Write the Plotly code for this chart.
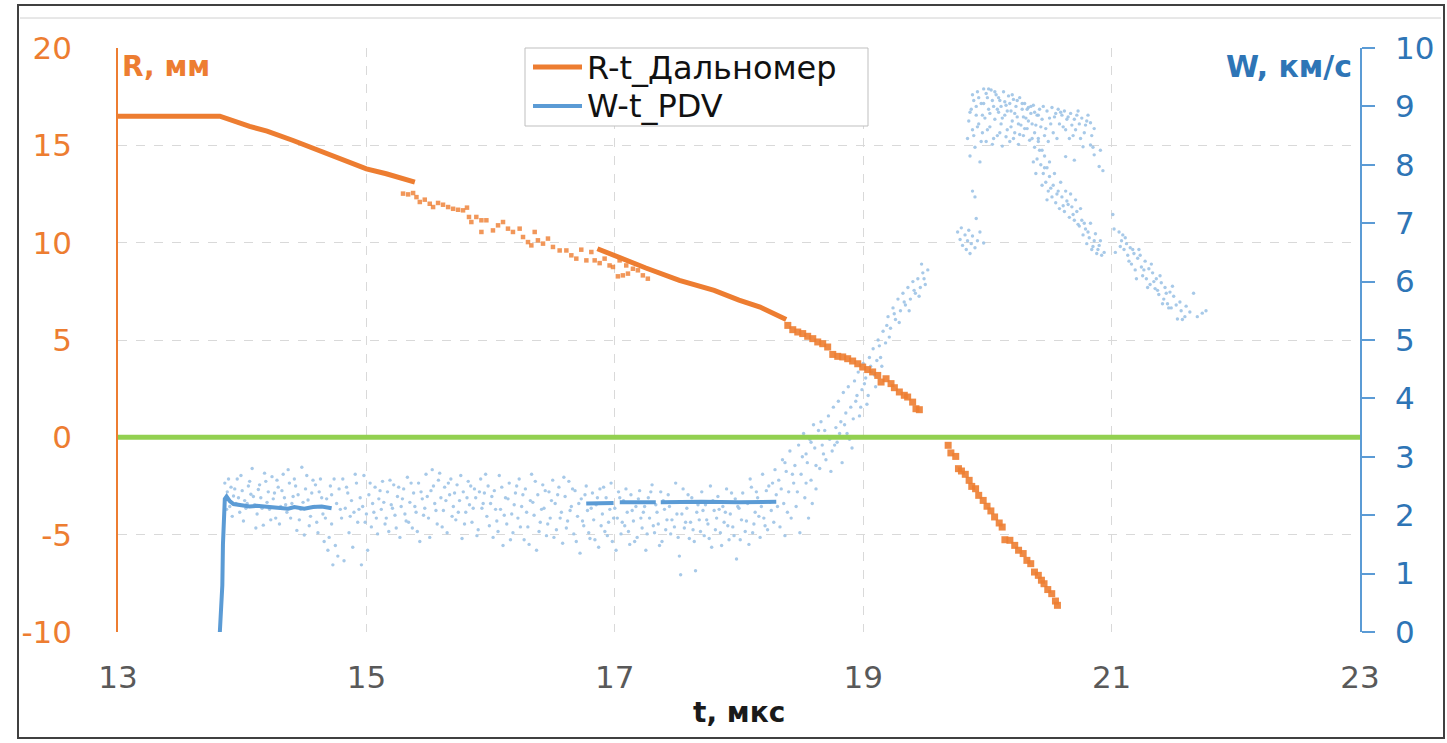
import plotly.graph_objects as go

# ---------------- R-t_Дальномер  (R, мм ; left axis) ----------------
r_line1_t = [13.0, 13.82, 14.06, 14.20, 14.41, 14.63, 14.84, 15.0, 15.16, 15.39]
r_line1_v = [16.5, 16.5, 15.97, 15.73, 15.25, 14.71, 14.14, 13.79, 13.54, 13.11]

r_scatter_t = [15.295, 15.336, 15.376, 15.403, 15.430, 15.470, 15.510, 15.537, 15.577, 15.617,
               15.658, 15.698, 15.738, 15.778, 15.810, 15.826, 15.845, 15.885, 15.926, 15.966,
               15.926, 16.019, 16.060, 16.100, 16.140, 16.180, 16.234, 16.261, 16.301, 16.328,
               16.355, 16.381, 16.422, 16.462, 16.502, 16.556, 16.610, 16.650, 16.690, 16.730,
               16.771, 16.811, 16.838, 16.878, 16.918, 16.958, 16.985, 17.025, 17.065, 17.106,
               17.146, 17.186, 17.226, 17.266, 17.092, 17.039]
r_scatter_v = [12.52, 12.48, 12.55, 12.34, 12.09, 12.21, 12.00, 11.83, 12.04, 11.95,
               11.83, 11.74, 11.69, 11.66, 11.80, 11.32, 11.06, 11.32, 11.15, 11.15,
               10.55, 10.63, 10.89, 11.06, 10.72, 10.55, 10.72, 10.29, 10.03, 9.86,
               10.55, 10.12, 9.95, 10.21, 9.78, 9.60, 9.60, 9.35, 9.18, 9.64,
               9.09, 9.52, 9.09, 8.95, 9.18, 8.83, 8.75, 8.27, 8.32, 8.41,
               8.66, 8.58, 8.32, 8.15, 8.83, 9.09]

r_line2_t = [16.86, 17.05, 17.25, 17.52, 17.80, 18.00, 18.17, 18.38]
r_line2_v = [9.69, 9.20, 8.70, 8.06, 7.55, 7.05, 6.69, 6.05]

r_marks_t = [18.393, 18.433, 18.473, 18.513, 18.553, 18.594, 18.634, 18.674, 18.714, 18.755,
             18.795, 18.835, 18.875, 18.915, 18.956, 18.996, 19.036, 19.076, 19.117, 19.144,
             19.184, 19.224, 19.251, 19.291, 19.331, 19.358, 19.398, 19.425, 19.452,
             19.684, 19.706, 19.745, 19.767, 19.791, 19.822, 19.853, 19.874, 19.905, 19.930,
             19.966, 19.997, 20.028, 20.058, 20.095, 20.119, 20.141, 20.181, 20.220, 20.251,
             20.288, 20.318, 20.349, 20.379, 20.410, 20.435, 20.456, 20.486, 20.518, 20.548,
             20.564]
r_marks_v = [5.75, 5.53, 5.41, 5.33, 5.19, 5.07, 4.90, 4.81, 4.64, 4.26,
             4.16, 4.13, 4.04, 3.92, 3.78, 3.61, 3.48, 3.36, 3.18, 2.84,
             3.01, 2.76, 2.55, 2.33, 2.16, 2.07, 1.81, 1.47, 1.42,
             -0.41, -0.80, -0.98, -1.61, -1.73, -1.90, -2.21, -2.52, -2.64, -2.98,
             -3.24, -3.54, -3.78, -4.09, -4.40, -4.61, -5.26, -5.29, -5.55, -5.80,
             -5.97, -6.32, -6.49, -6.92, -7.09, -7.34, -7.52, -7.82, -8.03, -8.41,
             -8.63]

zero_t = [13, 23]
zero_r = [0, 0]

# ---------------- W-t_PDV  (W, км/с ; right axis) ----------------
w_line1_t = [13.82, 13.83, 13.84, 13.845, 13.85, 13.86, 13.874, 13.90, 13.93, 14.0, 14.06,
             14.115, 14.18, 14.25, 14.31, 14.37, 14.42, 14.46, 14.5, 14.57, 14.64, 14.72]
w_line1_v = [0.0, 0.35, 0.80, 1.5, 2.05, 2.28, 2.32, 2.24, 2.19, 2.17, 2.15,
             2.16, 2.15, 2.14, 2.13, 2.11, 2.14, 2.12, 2.11, 2.14, 2.15, 2.12]

w_line2_t = [16.77, 16.99, None, 17.04, 17.33, None, 17.37, 17.70, 18.00, 18.30]
w_line2_v = [2.20, 2.21, None, 2.22, 2.22, None, 2.22, 2.23, 2.22, 2.23]

cloud_plateau = [
    (13.86, 2.55), (13.87, 2.28), (13.88, 2.40), (13.90, 2.15), (13.91, 2.48), (13.93, 2.33),
    (13.95, 2.20), (13.96, 2.62), (13.98, 2.05), (14.00, 2.42), (14.02, 2.25), (14.03, 2.12),
    (14.05, 2.50), (14.07, 2.36), (14.08, 2.80), (14.10, 2.18), (14.12, 2.02), (14.13, 2.44),
    (14.15, 2.30), (14.17, 1.83), (14.19, 2.58), (14.20, 2.22), (14.22, 2.10), (14.24, 2.66),
    (14.26, 2.38), (14.27, 1.95), (14.29, 2.48), (14.31, 2.15), (14.33, 2.70), (14.34, 2.30),
    (14.36, 2.05), (14.38, 2.55), (14.40, 2.20), (14.42, 2.62), (14.44, 1.74), (14.45, 2.35),
    (14.47, 2.10), (14.48, 2.82), (14.50, 1.66), (14.51, 2.45), (14.53, 2.26), (14.55, 1.98),
    (14.57, 2.60), (14.58, 2.15), (14.60, 1.88), (14.62, 2.40), (14.63, 2.62), (14.65, 2.02),
    (14.66, 1.55), (14.68, 2.28), (14.69, 1.40), (14.71, 2.50), (14.72, 1.85), (14.73, 1.15),
    (14.74, 2.62), (14.76, 2.20), (14.77, 1.30), (14.78, 2.45), (14.80, 1.95), (14.81, 2.62),
    (14.82, 1.22), (14.83, 2.12), (14.85, 2.38), (14.86, 1.70), (14.88, 2.25), (14.89, 1.45),
    (14.90, 2.05), (14.92, 2.55), (14.93, 1.88), (14.95, 2.30), (14.96, 1.15), (14.97, 2.15),
    (14.98, 2.68), (15.00, 2.02), (15.01, 1.40), (15.02, 2.35), (15.04, 1.80), (15.05, 2.20),
    (15.07, 2.48), (15.08, 1.95), (15.10, 2.28), (15.12, 2.10), (15.13, 2.58), (15.15, 1.85),
    (15.17, 2.40), (15.18, 1.72), (15.20, 2.18), (15.22, 2.52), (15.23, 2.00), (15.25, 2.32),
    (15.27, 1.62), (15.28, 2.15), (15.30, 2.45), (15.32, 1.90), (15.33, 2.65), (15.35, 2.22),
    (15.37, 1.78), (15.38, 2.38), (15.40, 2.05), (15.42, 2.55), (15.43, 1.55), (15.45, 2.28),
    (15.47, 2.12), (15.48, 2.70), (15.50, 1.95), (15.52, 2.42), (15.53, 2.78), (15.55, 2.20),
    (15.57, 1.85), (15.58, 2.60), (15.60, 2.30), (15.62, 2.08), (15.63, 2.48), (15.65, 1.70),
    (15.67, 2.35), (15.68, 2.62), (15.70, 2.15), (15.72, 1.92), (15.73, 2.52), (15.75, 2.25),
    (15.77, 1.60), (15.78, 2.40), (15.80, 2.05), (15.82, 2.58), (15.83, 2.18), (15.85, 1.88),
    (15.87, 2.45), (15.88, 2.30), (15.90, 1.75), (15.92, 2.62), (15.93, 2.12), (15.95, 2.38),
    (15.97, 1.98), (15.98, 2.50), (16.00, 2.20), (16.02, 1.62), (16.03, 2.42), (16.05, 1.90),
    (16.07, 2.68), (16.08, 2.10), (16.10, 1.48), (16.12, 2.30), (16.13, 1.85), (16.15, 2.55),
    (16.17, 2.02), (16.18, 1.70), (16.20, 2.38), (16.22, 1.95), (16.23, 2.62), (16.25, 2.15),
    (16.27, 1.58), (16.28, 2.45), (16.30, 1.80), (16.32, 2.25), (16.33, 2.70), (16.35, 2.00),
    (16.37, 1.40), (16.38, 2.35), (16.40, 1.88), (16.42, 2.52), (16.43, 2.12), (16.45, 1.65),
    (16.47, 2.40), (16.48, 1.95), (16.50, 2.60), (16.52, 2.20), (16.53, 1.75), (16.55, 2.48),
    (16.57, 2.05), (16.58, 1.52), (16.60, 2.32), (16.62, 1.90), (16.63, 2.58), (16.65, 2.15),
    (16.67, 1.68), (16.68, 2.42), (16.70, 1.98), (16.72, 1.35), (16.73, 2.28), (16.75, 1.82),
    (16.77, 2.50), (16.78, 2.08), (16.80, 1.60), (16.82, 2.38), (16.83, 1.92), (16.85, 2.18),
    (16.87, 1.45), (16.88, 2.45), (16.90, 2.02), (16.92, 1.72), (16.93, 2.30), (16.95, 1.88),
    (16.97, 2.55), (16.98, 1.55), (17.00, 2.12), (17.02, 1.95), (17.03, 2.40), (17.05, 1.68),
    (17.07, 2.25), (17.08, 1.82), (17.10, 2.05), (17.12, 1.50), (17.13, 2.35), (17.15, 1.90),
    (17.17, 2.15), (17.18, 1.62), (17.20, 2.42), (17.22, 1.78), (17.23, 2.05), (17.25, 1.40),
    (17.27, 2.30), (17.28, 1.95), (17.30, 2.52), (17.32, 1.70), (17.33, 2.18), (17.35, 1.85),
    (17.37, 2.40), (17.38, 1.55), (17.40, 2.10), (17.42, 1.92), (17.43, 2.35), (17.45, 1.68),
    (17.47, 2.22), (17.48, 1.80), (17.50, 2.02), (17.52, 1.30), (17.53, 0.98), (17.55, 2.45),
    (17.57, 1.88), (17.58, 2.12), (17.60, 1.60), (17.62, 2.30), (17.63, 1.75), (17.65, 1.05),
    (17.66, 2.05), (17.68, 1.92), (17.70, 2.40), (17.72, 1.65), (17.73, 2.18), (17.75, 1.85),
    (17.77, 2.50), (17.78, 1.45), (17.80, 2.08), (17.82, 1.95), (17.83, 2.32), (17.85, 1.70),
    (17.87, 2.15), (17.88, 1.88), (17.90, 2.45), (17.92, 1.58), (17.93, 2.02), (17.95, 1.80),
    (17.97, 2.28), (17.98, 1.25), (18.00, 2.12), (18.02, 1.92), (18.03, 2.38), (18.05, 1.72),
    (18.07, 2.20), (18.08, 1.50), (18.10, 2.48), (18.12, 1.85), (18.13, 2.05), (18.15, 2.30),
    (18.17, 1.62), (18.18, 2.15), (18.20, 1.95), (18.22, 2.42), (18.23, 1.75), (18.25, 2.22),
    (18.27, 2.55), (18.28, 1.88), (18.30, 2.35),
]

cloud_plateau_b = [
    (13.875, 2.10), (13.89, 2.62), (13.92, 1.98), (13.94, 2.45), (13.97, 2.30), (13.99, 2.68),
    (14.01, 1.90), (14.04, 2.20), (14.06, 2.58), (14.09, 2.32), (14.11, 1.78), (14.14, 2.52),
    (14.16, 2.12), (14.18, 2.72), (14.21, 2.40), (14.23, 1.92), (14.25, 2.28), (14.28, 2.60),
    (14.30, 1.85), (14.32, 2.42), (14.35, 2.18), (14.37, 2.78), (14.39, 1.95), (14.41, 2.32),
    (14.43, 2.50), (14.46, 1.92), (14.49, 2.22), (14.52, 2.68), (14.54, 1.82), (14.56, 2.38),
    (14.59, 2.52), (14.61, 1.70), (14.64, 2.30), (14.67, 1.95), (14.70, 1.62), (14.72, 2.35),
    (14.75, 1.48), (14.79, 2.10), (14.84, 2.48), (14.87, 1.98), (14.91, 2.70), (14.94, 2.10),
    (14.99, 1.88), (15.03, 2.55), (15.06, 2.05), (15.09, 1.68), (15.11, 2.42), (15.14, 2.22),
    (15.16, 1.95), (15.19, 2.60), (15.21, 2.12), (15.24, 1.78), (15.26, 2.48), (15.29, 2.28),
    (15.31, 2.02), (15.34, 1.88), (15.36, 2.55), (15.39, 2.15), (15.41, 1.72), (15.44, 2.40),
    (15.46, 2.00), (15.49, 2.32), (15.51, 1.62), (15.54, 2.50), (15.56, 2.08), (15.59, 2.72),
    (15.61, 1.80), (15.64, 2.25), (15.66, 2.55), (15.69, 1.98), (15.71, 2.38), (15.74, 2.05),
    (15.76, 2.68), (15.79, 1.85), (15.81, 2.30), (15.84, 2.50), (15.86, 2.12), (15.89, 1.65),
    (15.91, 2.40), (15.94, 2.20), (15.96, 2.70), (15.99, 1.82), (16.01, 2.32), (16.04, 2.10),
    (16.06, 1.72), (16.09, 2.48), (16.11, 2.00), (16.14, 2.28), (16.16, 1.58), (16.19, 2.18),
    (16.21, 2.50), (16.24, 1.80), (16.26, 2.35), (16.29, 2.05), (16.31, 1.50), (16.34, 2.22),
    (16.36, 2.58), (16.39, 1.72), (16.41, 2.10), (16.44, 2.42), (16.46, 1.85), (16.49, 2.25),
    (16.51, 1.62), (16.54, 2.35), (16.56, 1.95), (16.59, 2.65), (16.61, 1.78), (16.64, 2.08),
    (16.66, 2.45), (16.69, 1.55), (16.71, 2.20), (16.74, 1.90), (16.76, 2.35), (16.79, 1.70),
    (16.81, 2.12), (16.84, 1.58), (16.86, 2.30), (16.89, 1.82), (16.91, 2.48), (16.94, 1.65),
    (16.96, 2.10), (16.99, 1.95), (17.01, 1.40), (17.04, 2.30), (17.06, 1.88), (17.09, 2.45),
    (17.11, 1.72), (17.14, 2.08), (17.16, 1.55), (17.19, 2.28), (17.21, 1.95), (17.24, 2.15),
    (17.26, 1.68), (17.29, 2.40), (17.31, 1.82), (17.34, 2.05), (17.36, 1.48), (17.39, 2.25),
    (17.41, 1.75), (17.44, 2.15), (17.46, 1.92), (17.49, 2.55), (17.51, 1.62), (17.54, 2.02),
    (17.56, 1.78), (17.59, 2.35), (17.61, 1.88), (17.64, 1.55), (17.67, 2.18), (17.69, 1.72),
    (17.71, 2.08), (17.74, 1.92), (17.76, 1.60), (17.79, 2.25), (17.81, 1.75), (17.84, 2.10),
    (17.86, 1.48), (17.89, 2.05), (17.91, 1.82), (17.94, 2.38), (17.96, 1.65), (17.99, 2.15),
    (18.01, 1.58), (18.04, 2.22), (18.06, 1.90), (18.09, 2.62), (18.11, 1.70), (18.14, 2.40),
    (18.16, 1.98), (18.19, 2.70), (18.21, 1.82), (18.24, 2.50), (18.26, 2.08), (18.29, 2.78),
]

cloud_rise = [
    (18.32, 2.60), (18.33, 1.80), (18.35, 2.95), (18.36, 2.20), (18.37, 1.65), (18.38, 2.75),
    (18.40, 2.40), (18.41, 3.10), (18.42, 1.95), (18.44, 2.55), (18.45, 2.85), (18.46, 2.15),
    (18.48, 3.20), (18.49, 1.70), (18.50, 2.70), (18.52, 3.40), (18.53, 2.30), (18.54, 3.05),
    (18.55, 2.90), (18.56, 1.95), (18.57, 3.30), (18.58, 2.60), (18.60, 3.55), (18.61, 3.15),
    (18.62, 2.45), (18.63, 3.35), (18.65, 2.80), (18.66, 3.60), (18.67, 3.20), (18.69, 3.45),
    (18.70, 2.95), (18.72, 3.70), (18.73, 3.30), (18.75, 3.10), (18.76, 3.85), (18.78, 3.50),
    (18.79, 3.25), (18.80, 3.95), (18.82, 3.60), (18.83, 2.90), (18.84, 4.10), (18.86, 3.75),
    (18.87, 3.40), (18.88, 4.20), (18.90, 3.85), (18.91, 3.15), (18.93, 4.30), (18.94, 3.95),
    (18.96, 4.45), (18.97, 3.70), (18.99, 4.15), (19.00, 4.60), (19.02, 4.35), (19.03, 3.90),
    (19.05, 4.70), (19.07, 4.45), (19.08, 4.85), (19.10, 4.20), (19.12, 5.00), (19.14, 4.70),
    (19.16, 5.15), (19.18, 4.95), (19.20, 5.40), (19.22, 5.20), (19.24, 5.55), (19.26, 5.35),
    (19.28, 5.70), (19.30, 5.50), (19.32, 5.80), (19.34, 5.60), (19.36, 5.90), (19.38, 5.70),
    (19.40, 6.00), (19.42, 5.80), (19.44, 6.05), (19.46, 5.90), (19.48, 6.15), (19.50, 5.95),
    (19.52, 6.20),
    (18.31, 2.15), (18.34, 2.45), (18.37, 2.90), (18.39, 2.05), (18.43, 2.70), (18.47, 2.40),
    (18.51, 3.00), (18.54, 2.55), (18.58, 3.25), (18.59, 2.20), (18.62, 2.85), (18.64, 3.45),
    (18.68, 3.05), (18.71, 3.35), (18.74, 2.75), (18.77, 3.20), (18.81, 3.40), (18.85, 3.55),
    (18.89, 3.30), (18.92, 3.65), (18.95, 4.05), (18.98, 3.85), (19.01, 4.25), (19.04, 4.05),
    (19.06, 4.55), (19.09, 4.40), (19.11, 4.65), (19.13, 4.90), (19.15, 4.55), (19.19, 5.25),
    (19.21, 5.05), (19.25, 5.45), (19.29, 5.30), (19.33, 5.65), (19.37, 5.50), (19.41, 5.85),
    (19.45, 5.75), (19.49, 6.05), (19.47, 6.30),
]

cloud_peak = [
    (19.76, 6.85), (19.78, 6.72), (19.79, 6.92), (19.80, 6.62), (19.82, 6.80), (19.83, 6.55),
    (19.84, 6.70), (19.85, 6.88), (19.86, 6.48), (19.87, 6.65), (19.88, 6.78), (19.90, 6.58),
    (19.92, 6.70), (19.94, 6.85), (19.97, 6.66), (19.88, 7.55), (19.90, 7.45), (19.91, 7.08),
    (19.84, 8.45), (19.85, 8.75), (19.86, 8.15), (19.87, 8.95), (19.88, 8.60), (19.89, 9.10),
    (19.90, 8.30), (19.91, 8.85), (19.92, 9.25), (19.93, 8.70), (19.94, 8.05), (19.95, 9.05),
    (19.96, 8.55), (19.97, 9.30), (19.98, 8.80), (19.99, 8.40), (20.00, 9.15), (20.01, 8.95),
    (20.02, 8.65), (20.03, 9.28), (20.04, 8.35), (20.05, 9.00), (20.06, 8.78), (20.07, 9.20),
    (20.08, 8.50), (20.09, 8.90), (20.10, 9.10), (20.11, 8.70), (20.12, 8.32), (20.13, 9.25),
    (20.14, 8.85), (20.15, 9.02), (20.16, 8.60), (20.17, 9.18), (20.18, 8.40), (20.19, 8.92),
    (20.20, 8.75), (20.21, 9.12), (20.22, 8.55), (20.23, 9.00), (20.24, 8.82), (20.25, 8.35),
    (20.26, 9.15), (20.27, 8.68), (20.28, 8.95), (20.29, 8.50), (20.30, 9.05), (20.31, 8.80),
    (20.32, 8.62), (20.33, 8.98), (20.34, 8.42), (20.35, 8.88), (20.36, 8.70), (20.37, 9.02),
    (20.38, 8.55), (20.40, 8.85), (20.41, 8.40), (20.42, 8.95), (20.43, 8.65), (20.45, 9.00),
    (20.46, 8.50), (20.48, 8.92), (20.50, 8.80), (20.52, 8.98), (20.53, 8.55), (20.55, 8.88),
    (20.57, 8.95), (20.58, 8.70), (20.60, 8.85), (20.62, 8.92), (20.63, 8.60), (20.65, 8.82),
    (20.67, 8.88), (20.69, 8.50), (20.70, 8.78), (20.72, 8.85), (20.74, 8.70), (20.76, 8.80),
    (20.78, 8.55), (20.80, 8.75), (20.83, 8.72), (20.85, 8.30), (20.86, 8.62), (20.90, 7.97),
    (20.63, 8.14), (20.70, 8.08), (20.77, 8.31), (20.83, 8.34), (20.86, 8.17),
    (19.86, 8.90), (19.88, 9.20), (19.89, 8.50), (19.91, 9.00), (19.92, 8.65), (19.93, 9.15),
    (19.95, 8.40), (19.96, 8.85), (19.97, 9.05), (19.99, 9.22), (20.00, 8.60), (20.01, 9.30),
    (20.02, 8.88), (20.04, 9.10), (20.05, 8.45), (20.06, 9.25), (20.08, 8.95), (20.09, 9.15),
    (20.10, 8.55), (20.11, 9.00), (20.12, 8.80), (20.14, 9.08), (20.15, 8.48), (20.16, 8.92),
    (20.18, 9.05), (20.19, 8.65), (20.20, 9.20), (20.21, 8.45), (20.22, 8.88), (20.24, 9.10),
    (20.25, 8.70), (20.26, 8.52), (20.28, 9.05), (20.29, 8.82), (20.30, 8.62), (20.32, 8.95),
    (20.33, 8.75), (20.35, 9.00), (20.36, 8.45), (20.38, 8.90), (20.39, 8.68), (20.41, 8.85),
    (20.44, 8.78), (20.47, 8.62), (20.49, 8.40), (20.51, 8.70), (20.54, 8.82), (20.56, 8.45),
    (20.59, 8.90), (20.61, 8.65), (20.64, 8.78), (20.66, 8.45), (20.68, 8.68), (20.71, 8.60),
    (20.73, 8.92), (20.75, 8.45), (20.79, 8.68), (20.81, 8.85), (20.84, 8.50), (20.91, 8.25),
    (20.93, 7.90),
]

cloud_fall = [
    (20.38, 8.30), (20.40, 8.10), (20.41, 8.45), (20.43, 8.00), (20.44, 8.25), (20.45, 7.85),
    (20.46, 8.15), (20.47, 7.70), (20.48, 7.95), (20.49, 7.55), (20.50, 7.80), (20.52, 7.45),
    (20.53, 7.65), (20.55, 7.35), (20.57, 7.55), (20.58, 7.25), (20.60, 7.45), (20.62, 7.20),
    (20.64, 7.38), (20.66, 7.10), (20.68, 7.28), (20.70, 7.05), (20.72, 7.20), (20.74, 6.95),
    (20.76, 7.05), (20.77, 6.80), (20.79, 6.90), (20.80, 6.65), (20.82, 6.75), (20.84, 6.55),
    (20.86, 6.70), (20.88, 6.48), (20.90, 6.62), (20.92, 6.45),
    (21.01, 7.15), (21.02, 6.90), (21.03, 6.50),
    (21.06, 6.85), (21.08, 6.70), (21.09, 6.80), (21.10, 6.55), (21.12, 6.65), (21.13, 6.45),
    (21.15, 6.58), (21.16, 6.30), (21.18, 6.48), (21.19, 6.20), (21.21, 6.40), (21.22, 6.55),
    (21.24, 6.25), (21.25, 6.10), (21.27, 6.35), (21.28, 6.05), (21.30, 6.22), (21.31, 5.95),
    (21.33, 6.15), (21.35, 5.88), (21.36, 6.05), (21.38, 5.78), (21.40, 5.98), (21.42, 5.70),
    (21.43, 5.90), (21.45, 5.62), (21.47, 5.82), (21.48, 5.55), (21.50, 5.75), (21.53, 5.36),
    (21.55, 5.65), (21.57, 5.35), (21.60, 5.58), (21.63, 5.48), (21.66, 5.80), (21.69, 5.40),
    (21.73, 5.46), (21.76, 5.50),
    (20.37, 8.05), (20.39, 7.85), (20.42, 8.25), (20.44, 7.65), (20.46, 7.95), (20.48, 7.40),
    (20.50, 8.05), (20.51, 7.60), (20.54, 7.85), (20.56, 7.50), (20.59, 7.70), (20.61, 7.30),
    (20.63, 7.55), (20.65, 7.32), (20.67, 7.50), (20.69, 7.15), (20.71, 7.40), (20.73, 6.98),
    (20.75, 7.25), (20.78, 7.00), (20.81, 6.85), (20.83, 7.00), (20.85, 6.60), (20.87, 6.82),
    (20.89, 6.55), (20.91, 6.70), (20.94, 6.50), (21.07, 6.60), (21.11, 6.75), (21.14, 6.35),
    (21.17, 6.55), (21.20, 6.05), (21.23, 6.45), (21.26, 6.20), (21.29, 5.90), (21.32, 6.30),
    (21.34, 6.00), (21.37, 5.85), (21.39, 6.10), (21.41, 5.62), (21.44, 5.80), (21.46, 5.55),
    (21.49, 5.92), (21.52, 5.60), (21.56, 5.50), (21.59, 5.40),
]

x_ticks = [13, 15, 17, 19, 21, 23]
r_ticks = [-10, -5, 0, 5, 10, 15, 20]
r_tick_text = ["-10", "-5", "0", "5", "10", "15", "20"]
w_ticks = list(range(0, 11))

legend_names = ["R-t_Дальномер", "W-t_PDV"]

ORANGE = "#ED7D31"
BLUE = "#5B9BD5"
BLUE_TXT = "#2E75B6"
CLOUD = "#9DC3E6"
GREEN = "#92D050"
FONT = "DejaVu Sans"

cloud = cloud_plateau + cloud_plateau_b + cloud_rise + cloud_peak + cloud_fall
cloud_t = [p[0] for p in cloud]
cloud_w = [p[1] for p in cloud]

fig = go.Figure()

# W traces on primary y (right side) -> drawn beneath R traces
fig.add_trace(go.Scatter(x=cloud_t, y=cloud_w, mode="markers", yaxis="y",
                         marker=dict(size=3.4, color=CLOUD, opacity=0.9),
                         showlegend=False, hoverinfo="skip"))
fig.add_trace(go.Scatter(x=w_line1_t, y=w_line1_v, mode="lines", yaxis="y",
                         line=dict(color=BLUE, width=4), name=legend_names[1],
                         showlegend=False))
fig.add_trace(go.Scatter(x=w_line2_t, y=w_line2_v, mode="lines", yaxis="y",
                         line=dict(color=BLUE, width=4), showlegend=False,
                         connectgaps=False))

# R traces on overlaying y2 (left side)
fig.add_trace(go.Scatter(x=zero_t, y=zero_r, mode="lines", yaxis="y2",
                         line=dict(color=GREEN, width=5), showlegend=False,
                         hoverinfo="skip"))
fig.add_trace(go.Scatter(x=r_line1_t, y=r_line1_v, mode="lines", yaxis="y2",
                         line=dict(color=ORANGE, width=5), name=legend_names[0],
                         showlegend=False))
fig.add_trace(go.Scatter(x=r_scatter_t, y=r_scatter_v, mode="markers", yaxis="y2",
                         marker=dict(symbol="square", size=4.5, color=ORANGE, opacity=0.8),
                         showlegend=False))
fig.add_trace(go.Scatter(x=r_line2_t, y=r_line2_v, mode="lines", yaxis="y2",
                         line=dict(color=ORANGE, width=5), showlegend=False))
fig.add_trace(go.Scatter(x=r_marks_t, y=r_marks_v, mode="markers", yaxis="y2",
                         marker=dict(symbol="square", size=7, color=ORANGE, opacity=0.9),
                         showlegend=False))

W, H = 1447, 743
L, R, T, B = 118, 87, 48, 111
pw, ph = W - L - R, H - T - B


def px_x(x):
    return (x - L) / pw


def px_y(y):
    return (H - B - y) / ph


shapes = [
    dict(type="rect", xref="paper", yref="paper", x0=px_x(18), x1=px_x(1444),
         y0=px_y(738), y1=px_y(5), line=dict(color="#404040", width=2),
         fillcolor="rgba(0,0,0,0)", layer="below"),
    dict(type="line", xref="paper", yref="paper", x0=px_x(20), x1=px_x(1441),
         y0=px_y(18), y1=px_y(18), line=dict(color="#D0D0D0", width=1)),
    # legend box
    dict(type="rect", xref="paper", yref="paper", x0=px_x(525), x1=px_x(868),
         y0=px_y(126), y1=px_y(48), line=dict(color="#BFBFBF", width=1),
         fillcolor="white", layer="above"),
    dict(type="line", xref="paper", yref="paper", x0=px_x(533), x1=px_x(582),
         y0=px_y(67), y1=px_y(67), line=dict(color=ORANGE, width=5), layer="above"),
    dict(type="line", xref="paper", yref="paper", x0=px_x(533), x1=px_x(582),
         y0=px_y(106), y1=px_y(106), line=dict(color=BLUE, width=4), layer="above"),
]

annotations = [
    dict(text=legend_names[0], xref="paper", yref="paper", x=px_x(585), y=px_y(68),
         xanchor="left", yanchor="middle", showarrow=False,
         font=dict(size=32, color="#111111", family=FONT)),
    dict(text=legend_names[1], xref="paper", yref="paper", x=px_x(585), y=px_y(106),
         xanchor="left", yanchor="middle", showarrow=False,
         font=dict(size=32, color="#111111", family=FONT)),
    dict(text="<b>R, мм</b>", xref="paper", yref="paper", x=px_x(120), y=px_y(67),
         xanchor="left", yanchor="middle", showarrow=False,
         font=dict(size=28, color=ORANGE, family=FONT)),
    dict(text="<b>W, км/с</b>", xref="paper", yref="paper", x=px_x(1354), y=px_y(67),
         xanchor="right", yanchor="middle", showarrow=False,
         font=dict(size=30, color=BLUE_TXT, family=FONT)),
    dict(text="<b>t, мкс</b>", xref="paper", yref="paper", x=0.5, y=px_y(712),
         xanchor="center", yanchor="middle", showarrow=False,
         font=dict(size=28, color="#1a1a1a", family=FONT)),
]

fig.update_layout(
    width=W, height=H,
    margin=dict(l=L, r=R, t=T, b=B, pad=0),
    paper_bgcolor="white", plot_bgcolor="white",
    font=dict(family=FONT, color="#595959"),
    showlegend=False,
    xaxis=dict(range=[13, 23], tickvals=x_ticks, showgrid=True, gridcolor="#D9D9D9",
               griddash="dash", gridwidth=1, zeroline=False, showline=False, ticks="",
               tickfont=dict(size=31, color="#595959", family=FONT),
               ticklabelstandoff=24),
    yaxis=dict(range=[0, 10], tickvals=w_ticks, side="right", showgrid=False,
               zeroline=False, showline=True, linecolor=BLUE, linewidth=1.5,
               ticks="outside", ticklen=13, tickwidth=1.5, tickcolor=BLUE,
               tickfont=dict(size=31, color=BLUE_TXT, family=FONT),
               ticklabelstandoff=14),
    yaxis2=dict(range=[-10, 20], tickvals=r_ticks, ticktext=r_tick_text, side="left",
                overlaying="y", showgrid=True, gridcolor="#D9D9D9", griddash="dash",
                gridwidth=1, zeroline=False, showline=True, linecolor=ORANGE,
                linewidth=1.5, ticks="",
                tickfont=dict(size=31, color=ORANGE, family=FONT),
                ticklabelstandoff=38),
    annotations=annotations,
    shapes=shapes,
)

fig.write_html("out.html", config={"displayModeBar": False},
               post_script="document.body.style.margin='0';document.body.style.overflow='hidden';")
